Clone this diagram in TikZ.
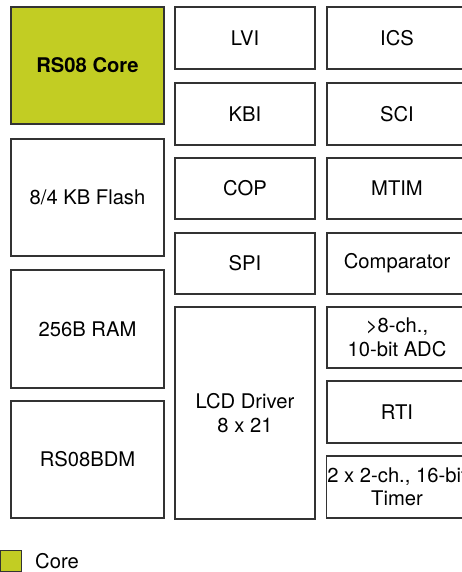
\documentclass[tikz,border=0pt]{standalone}
\usepackage{fontspec}
\setmainfont{TeX Gyre Heros}
\definecolor{corefill}{HTML}{C2CD23}
\definecolor{edge}{HTML}{333333}
\begin{document}
\begin{tikzpicture}[x=1pt,y=1pt,
  blk/.style={draw=edge, line width=1.1pt, fill=white, align=center, inner sep=1pt,
    font=\fontsize{20.2}{23.5}\selectfont, text=black},
  lw/.style={minimum width=153pt},
  mw/.style={minimum width=140pt},
  corestyle/.style={fill=corefill, font=\fontsize{20.2}{23.5}\selectfont\bfseries}]
\useasboundingbox (0,0) rectangle (461,-572);
% left column
\node[blk, lw, corestyle, minimum height=117pt] (core) at (87.5,-65.5) {RS08 Core};
\node[blk, lw, minimum height=117pt] (flash) at (87.5,-197.5) {8/4 KB Flash};
\node[blk, lw, minimum height=118pt] (ram) at (87.5,-329) {256B RAM};
\node[blk, lw, minimum height=117pt] (bdm) at (87.5,-459.5) {RS08BDM};
% middle column
\node[blk, mw, minimum height=62pt] (lvi) at (245,-38) {LVI};
\node[blk, mw, minimum height=62pt] (kbi) at (245,-114) {KBI};
\node[blk, mw, minimum height=61pt] (cop) at (245,-188.5) {COP};
\node[blk, mw, minimum height=61pt] (spi) at (245,-263.5) {SPI};
\node[blk, mw, minimum height=212pt] (lcd) at (245,-413) {LCD Driver\\8 x 21};
% right column
\node[blk, mw, minimum height=62pt] (ics) at (397,-38) {ICS};
\node[blk, mw, minimum height=62pt] (sci) at (397,-114) {SCI};
\node[blk, mw, minimum height=61pt] (mtim) at (397,-188.5) {MTIM};
\node[blk, mw, minimum height=61pt] (cmp) at (397,-263.5) {Comparator};
\node[blk, mw, minimum height=61pt] (adc) at (397,-337.5) {>8-ch.,\\10-bit ADC};
\node[blk, mw, minimum height=62pt] (rti) at (397,-412) {RTI};
\node[blk, mw, minimum height=62pt] (tmr) at (397,-487) {2 x 2-ch., 16-bit\\Timer};
% legend
\node[draw=edge, line width=1.1pt, fill=corefill, minimum width=21pt, minimum height=21pt, inner sep=0pt] (leg) at (11,-561) {};
\node[anchor=west, inner sep=0pt, font=\fontsize{20.2}{23.5}\selectfont] (legtxt) at (35,-561) {Core};
\end{tikzpicture}
\end{document}
